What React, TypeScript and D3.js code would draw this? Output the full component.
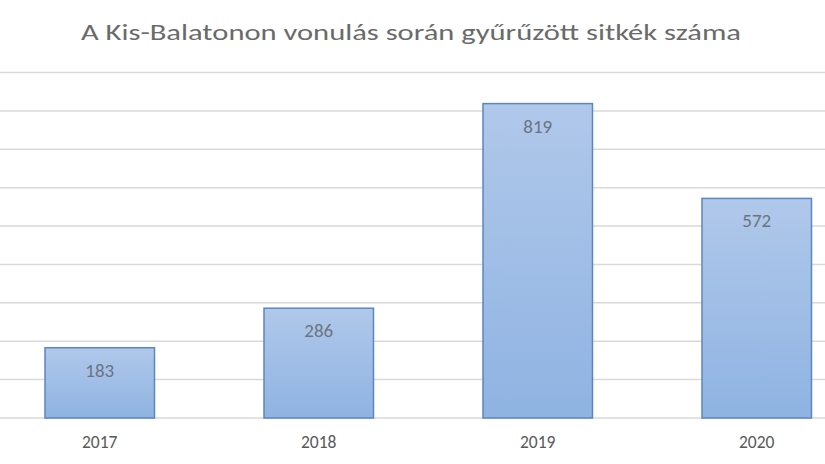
import React from "react";
import * as d3 from "d3";

const years = ["2017", "2018", "2019", "2020"];
const counts = [183, 286, 819, 572];
const yTicks = [0, 100, 200, 300, 400, 500, 600, 700, 800, 900];
const title = "A Kis-Balatonon vonulás során gyűrűzött sitkék száma";

export default function App() {
  const W = 825;
  const H = 464;
  const x = d3
    .scaleBand<string>()
    .domain(years)
    .range([-9.75, 866.25])
    .paddingInner(0.5)
    .paddingOuter(0.25);
  const y = d3.scaleLinear().domain([0, 900]).range([418, 72.5]);
  const font = "Carlito, Calibri, 'Open Sans', sans-serif";

  return (
    <svg
      width={W}
      height={H}
      style={{ position: "absolute", left: 0, top: 0, background: "#fff" }}
    >
      <defs>
        <linearGradient id="barGrad" x1="0" y1="0" x2="0" y2="1">
          <stop offset="0%" stopColor="#b0c8ea" />
          <stop offset="100%" stopColor="#8fb3e2" />
        </linearGradient>
      </defs>
      <rect width={W} height={H} fill="#fff" />
      <text
        x={411}
        y={40}
        textAnchor="middle"
        fontFamily={font}
        fontSize={23}
        fill="#6a6a6a"
        textLength={660}
        lengthAdjust="spacingAndGlyphs"
      >
        {title}
      </text>
      {yTicks.map((t) => (
        <line
          key={t}
          x1={0}
          x2={W}
          y1={y(t)}
          y2={y(t)}
          stroke="#d9d9d9"
          strokeWidth={1.5}
        />
      ))}
      {years.map((yr, i) => {
        const bx = x(yr)!;
        const bw = x.bandwidth();
        const top = y(counts[i]);
        return (
          <g key={yr}>
            <rect
              x={bx}
              y={top}
              width={bw}
              height={y(0) - top}
              fill="url(#barGrad)"
              stroke="#5b86bf"
              strokeWidth={1.5}
            />
            <text
              x={bx + bw / 2}
              y={top + 29}
              textAnchor="middle"
              fontFamily={font}
              fontSize={19}
              fill="#6b7480"
            >
              {counts[i]}
            </text>
            <text
              x={bx + bw / 2}
              y={448}
              textAnchor="middle"
              fontFamily={font}
              fontSize={17.5}
              fill="#595959"
            >
              {yr}
            </text>
          </g>
        );
      })}
    </svg>
  );
}
